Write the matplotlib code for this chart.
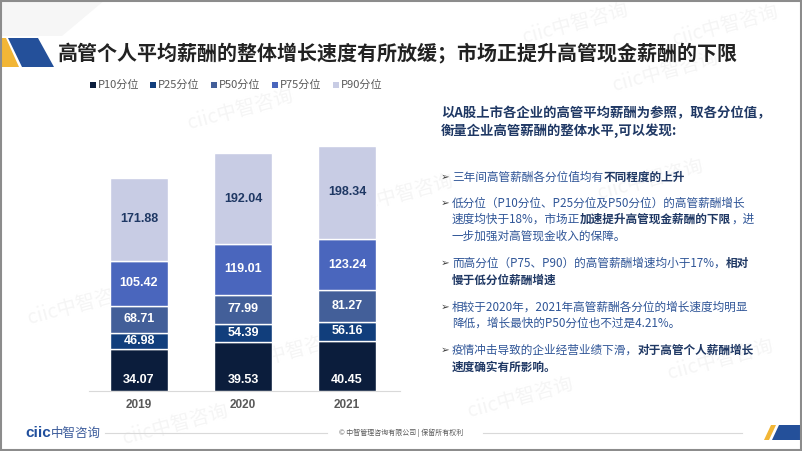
import matplotlib
matplotlib.use('Agg')
import matplotlib.pyplot as plt
from matplotlib.patches import Polygon, Rectangle
import numpy as np

plt.rcParams['font.family'] = ['Noto Sans CJK SC', 'DejaVu Sans']

# ---------------- data ----------------
years = ['2019', '2020', '2021']
series_names = ['P10分位', 'P25分位', 'P50分位', 'P75分位', 'P90分位']
p10 = [34.07, 39.53, 40.45]
p25 = [46.98, 54.39, 56.16]
p50 = [68.71, 77.99, 81.27]
p75 = [105.42, 119.01, 123.24]
p90 = [171.88, 192.04, 198.34]

title = '高管个人平均薪酬的整体增长速度有所放缓；市场正提升高管现金薪酬的下限'
header_lines = ['以A股上市各企业的高管平均薪酬为参照，取各分位值，',
                '衡量企业高管薪酬的整体水平,可以发现:']
bullets = [
    [[('三年间高管薪酬各分位值均有', False), ('不同程度的上升', True)]],
    [[('低分位（P10分位、P25分位及P50分位）的高管薪酬增长', False)],
     [('速度均快于18%，市场正', False), ('加速提升高管现金薪酬的下限', True), ('，进', False)],
     [('一步加强对高管现金收入的保障。', False)]],
    [[('而高分位（P75、P90）的高管薪酬增速均小于17%，', False), ('相对', True)],
     [('慢于低分位薪酬增速', True)]],
    [[('相较于2020年，2021年高管薪酬各分位的增长速度均明显', False)],
     [('降低，增长最快的P50分位也不过是4.21%。', False)]],
    [[('疫情冲击导致的企业经营业绩下滑，', False), ('对于高管个人薪酬增长', True)],
     [('速度确实有所影响。', True)]],
]
footer_text = '© 中智管理咨询有限公司 | 保留所有权利'

# ---------------- style ----------------
colors = ['#0b1d3c', '#113e7c', '#435f99', '#4a66bd', '#c8cce4']
NAVY = '#1f3864'
BLUE = '#2f5597'
GRAY = '#595959'

W, H = 802, 451
fig = plt.figure(figsize=(W / 100, H / 100), dpi=100)
bg = fig.add_axes([0, 0, 1, 1])
bg.set_xlim(0, W)
bg.set_ylim(H, 0)
bg.axis('off')

# watermarks
wm_pos = [(575, 24), (725, 26), (665, 72), (240, 110), (400, 195), (650, 180),
          (80, 305), (290, 352), (720, 360), (520, 398), (175, 425)]
for (wx, wy) in wm_pos:
    bg.text(wx, wy, 'ciic中智咨询', fontsize=14, color='#f5f5f5', rotation=15,
            ha='center', va='center', zorder=0)

# top-left decoration
bg.add_patch(Polygon([(0, 0), (105, 0), (62, 36), (0, 36)], closed=True,
                     facecolor='#f6f6f6', edgecolor='none', zorder=1))
bg.add_patch(Polygon([(0, 38), (6, 38), (19, 67), (0, 67)], closed=True,
                     facecolor='#f2b636', edgecolor='none', zorder=2))
bg.add_patch(Polygon([(8, 38), (38, 38), (54, 67), (22, 67)], closed=True,
                     facecolor='#24509a', edgecolor='none', zorder=2))

# title
bg.text(58, 53, title, fontsize=14.4, fontweight='bold', color='#222222',
        ha='left', va='center', zorder=3)

# legend
leg_x = [90, 150, 211, 272, 333]
for lx, name, c in zip(leg_x, series_names, colors):
    bg.add_patch(Rectangle((lx, 82), 6, 6, facecolor=c, edgecolor='none', zorder=3))
    bg.text(lx + 8, 85, name, fontsize=8, color=GRAY, ha='left', va='center', zorder=3)

# ---------------- chart ----------------
ax = fig.add_axes([87 / W, (H - 391) / H, 312 / W, 253.6 / H])
ax.patch.set_alpha(0)
ax.set_xlim(-0.5, 2.5)
ax.set_ylim(0, 205)
x = np.arange(len(years))
series = [p10, p25, p50, p75, p90]
prev = np.zeros(len(years))
for i, s in enumerate(series):
    s = np.array(s)
    ax.bar(x, s - prev, bottom=prev, width=0.55, color=colors[i],
           edgecolor='white', linewidth=1.0, zorder=2)
    for j in range(len(years)):
        ypos = 9 if i == 0 else (prev[j] + s[j]) / 2
        ax.text(x[j], ypos, f'{s[j]:.2f}', ha='center', va='center',
                color='white' if i < 4 else NAVY, fontsize=9, fontweight='bold',
                family='Liberation Sans', zorder=3)
    prev = s
for sp in ax.spines.values():
    sp.set_visible(False)
ax.set_yticks([])
ax.set_xticks(x)
ax.set_xticklabels(years, fontsize=8.5, fontweight='bold', color=GRAY,
                   family='Liberation Sans')
ax.tick_params(axis='x', length=0, pad=6)
bg.plot([89, 400], [391, 391], color='#d9d9d9', lw=0.8, zorder=1)

# ---------------- right text ----------------
def rich(x0, y0, pieces, size, bold_color=NAVY, norm_color=BLUE):
    prev_t = None
    for txt, bold in pieces:
        kw = dict(fontsize=size, fontweight='bold' if bold else 'normal',
                  color=bold_color if bold else norm_color, ha='left', va='center',
                  zorder=4)
        if prev_t is None:
            t = bg.text(x0, y0, txt, **kw)
        else:
            t = bg.annotate(txt, xy=(1, 0.5), xycoords=prev_t, **kw)
        prev_t = t

for k, line in enumerate(header_lines):
    bg.text(441, 113 + k * 17.5, line, fontsize=9.6, fontweight='bold', color=NAVY,
            ha='left', va='center', zorder=4)

bullet_y = [[177], [203, 219.5, 236], [263, 280], [307, 323.5], [350, 367]]
for blines, ys in zip(bullets, bullet_y):
    bg.text(441, ys[0], '➢', fontsize=7.5, color='#404040', family='DejaVu Sans',
            ha='left', va='center', zorder=4)
    for pieces, yy in zip(blines, ys):
        rich(452, yy, pieces, 8.4)

# ---------------- footer ----------------
t1 = bg.text(25, 433, 'ciic', fontsize=11, fontweight='bold', color='#1f4e9c',
             family='Liberation Sans', ha='left', va='center', zorder=4)
bg.annotate('中智咨询', xy=(1, 0.5), xycoords=t1, fontsize=9, color='#3a5a9a',
            ha='left', va='center', zorder=4)
bg.plot([105, 327], [433, 433], color='#d9d9d9', lw=0.8, zorder=1)
bg.plot([483, 742], [433, 433], color='#d9d9d9', lw=0.8, zorder=1)
bg.text(401, 433, footer_text, fontsize=5, color=GRAY, ha='center', va='center', zorder=4)
bg.add_patch(Polygon([(771, 425), (776, 425), (769, 440), (764, 440)], closed=True,
                     facecolor='#f2b636', edgecolor='none', zorder=2))
bg.add_patch(Polygon([(779, 425), (801, 425), (801, 440), (772, 440)], closed=True,
                     facecolor='#24509a', edgecolor='none', zorder=2))

# frame
bg.add_patch(Rectangle((1, 1), W - 2, H - 2, facecolor='none', edgecolor='#8c8c8c',
                       lw=1.5, zorder=5))

fig.savefig('out.png', dpi=100)
